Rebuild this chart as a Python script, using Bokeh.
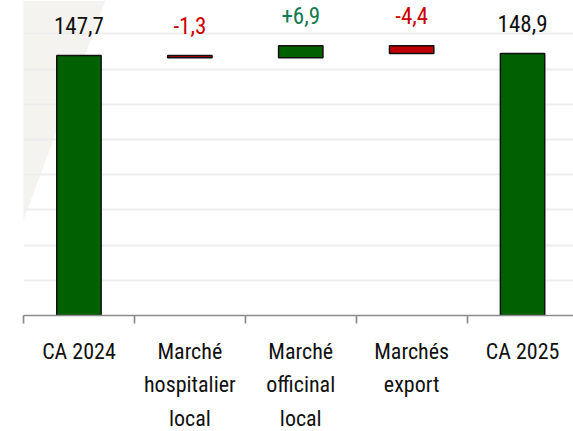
import numpy as np
from bokeh.plotting import figure
from bokeh.models import (Range1d, FixedTicker, LinearAxis, ColumnDataSource,
                          PolyAnnotation, Grid)
from bokeh.core.properties import value
from bokeh.embed import file_html
from bokeh.resources import INLINE

# ---- data ----
categories = ["CA 2024", "Marché\nhospitalier\nlocal", "Marché\nofficinal\nlocal",
              "Marchés\nexport", "CA 2025"]
values = [147.7, -1.3, 6.9, -4.4, 148.9]
is_total = [True, False, False, False, True]
grid_ticks = [20, 40, 60, 80, 100, 120, 140, 160, 180]

# decorative background stripe (data units)
bg_x = [-0.3, 0.739, -0.297]
bg_y = [179, 179, 4]

FONT = "Roboto Condensed"
GREEN = "#006100"
RED = "#C00000"

# ---- waterfall geometry ----
bottoms, tops, fills, label_txt, label_col = [], [], [], [], []
running = 0.0
for v, t in zip(values, is_total):
    if t:
        b, tp = 0.0, v
        running = v
        fills.append(GREEN)
        label_txt.append(f"{v:.1f}".replace(".", ","))
        label_col.append("#111111")
    else:
        new = running + v
        b, tp = min(running, new), max(running, new)
        running = new
        fills.append(GREEN if v >= 0 else RED)
        label_txt.append(f"{v:+.1f}".replace(".", ","))
        label_col.append("#137A52" if v >= 0 else "#CC0000")
    bottoms.append(b)
    tops.append(tp)

xs = [i + 0.5 for i in range(len(categories))]
bounds = list(range(len(categories) + 1))

src = ColumnDataSource(dict(x=xs, bottom=bottoms, top=tops, fill=fills,
                            lab=label_txt, labcol=label_col))

p = figure(frame_width=550, frame_height=315,
           x_range=Range1d(0, 550 / 110.9), y_range=Range1d(0, 179),
           output_backend="svg", toolbar_location=None,
           x_axis_type=None, y_axis_type=None,
           min_border_left=23, min_border_right=0, min_border_top=0, min_border_bottom=0)
p.outline_line_color = None
p.background_fill_color = "white"
p.border_fill_color = "white"

bg = PolyAnnotation(xs=bg_x, ys=bg_y, fill_color="#F4F3EF", fill_alpha=1.0,
                    line_color=None, level="underlay")
p.add_layout(bg)

grid = Grid(dimension=1, ticker=FixedTicker(ticks=grid_ticks),
            grid_line_color="#EDEDED", grid_line_width=2)
p.add_layout(grid)

xaxis = LinearAxis(ticker=FixedTicker(ticks=xs, minor_ticks=bounds),
                   major_label_overrides={x: c for x, c in zip(xs, categories)},
                   major_label_text_font=FONT, major_label_text_font_size="22px",
                   major_label_text_line_height=1.35, major_label_text_color="#111111",
                   major_label_standoff=15,
                   axis_line_color="#8C8C8C", axis_line_width=1.7,
                   major_tick_line_color=None, major_tick_out=0, major_tick_in=0,
                   minor_tick_line_color="#8C8C8C", minor_tick_line_width=1.7,
                   minor_tick_in=0, minor_tick_out=8)
p.add_layout(xaxis, "below")

p.vbar(x="x", bottom="bottom", top="top", width=0.4, source=src,
       fill_color="fill", line_color="#111111", line_width=1.5)

p.text(x="x", y="top", text="lab", source=src, text_color="labcol",
       text_align="center", text_baseline="middle", y_offset=-30,
       text_font=value(FONT), text_font_size="23px")

open("out.html", "w").write(file_html(p, INLINE))
